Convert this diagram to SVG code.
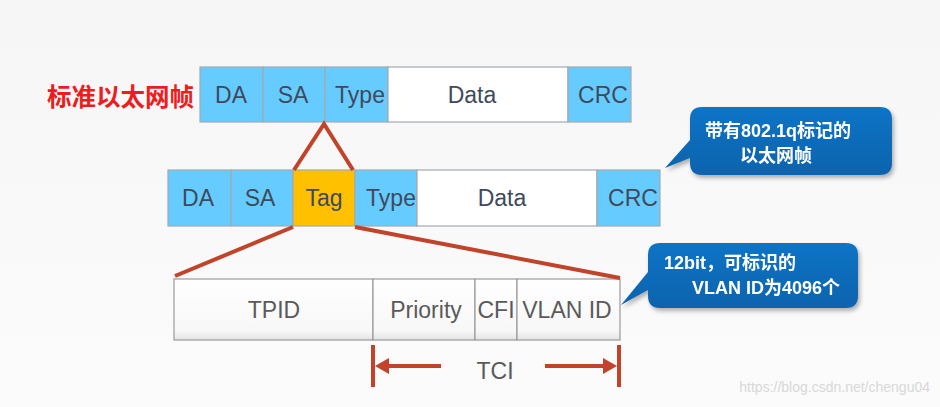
<svg xmlns="http://www.w3.org/2000/svg" width="940" height="407" viewBox="0 0 940 407">
<defs>
<linearGradient id="bg" x1="0" y1="0" x2="0" y2="1">
<stop offset="0" stop-color="#f6f6f6"/><stop offset="1" stop-color="#fbfbfb"/>
</linearGradient>
<linearGradient id="bev" x1="0" y1="0" x2="0" y2="1">
<stop offset="0" stop-color="#ffffff"/><stop offset="0.85" stop-color="#f7f7f7"/><stop offset="1" stop-color="#e4e4e4"/>
</linearGradient>
<linearGradient id="bubble" x1="0" y1="0" x2="0" y2="1">
<stop offset="0" stop-color="#0f74c6"/><stop offset="1" stop-color="#0a63ad"/>
</linearGradient>
<filter id="sh" x="-10%" y="-10%" width="130%" height="140%">
<feDropShadow dx="2" dy="3" stdDeviation="2" flood-color="#000" flood-opacity="0.3"/>
</filter>
</defs>
<style>
.blue{fill:#66ccff;stroke:#a3a9b0;stroke-width:1.2}
.white{fill:#ffffff;stroke:#a3a9b0;stroke-width:1.2}
.tag{fill:#ffc000;stroke:#a3a9b0;stroke-width:1.2}
.ft{font-family:"Liberation Sans",Arial,sans-serif;font-size:23px;fill:#3e4a5c;text-anchor:middle}
.bev{fill:url(#bev);stroke:#9a9a9a;stroke-width:1.2}
.bt{font-family:"Liberation Sans",Arial,sans-serif;font-size:23px;fill:#5a5a5a;text-anchor:middle}
.red{stroke:#c0432a;stroke-width:4;fill:none}
.cw{font-family:"Liberation Sans","Noto Sans CJK SC",sans-serif;font-size:18px;font-weight:bold;fill:#ffffff}
</style>
<rect width="940" height="407" fill="url(#bg)"/>
<text x="47" y="106" font-family="'Noto Sans CJK SC',sans-serif" font-size="24.5" font-weight="bold" fill="#ee1c1c">标准以太网帧</text>

<g id="frame-standard">
<rect class="blue" x="200" y="67" width="63" height="55"/>
<rect class="blue" x="263" y="67" width="62" height="55"/>
<rect class="blue" x="325" y="67" width="63" height="55"/>
<rect class="white" x="388" y="67" width="180" height="55"/>
<rect class="blue" x="568" y="67" width="63" height="55"/>
<text class="ft" x="231" y="103">DA</text>
<text class="ft" x="293" y="103">SA</text>
<text class="ft" x="360" y="103">Type</text>
<text class="ft" x="472" y="103">Data</text>
<text class="ft" x="603" y="103">CRC</text>
</g>

<g id="frame-tagged">
<rect class="blue" x="168" y="170" width="63" height="56"/>
<rect class="blue" x="231" y="170" width="62" height="56"/>
<rect class="tag" x="293" y="170" width="62" height="56"/>
<rect class="blue" x="355" y="170" width="62" height="56"/>
<rect class="white" x="417" y="170" width="180" height="56"/>
<rect class="blue" x="597" y="170" width="63" height="56"/>
<text class="ft" x="198" y="206">DA</text>
<text class="ft" x="260" y="206">SA</text>
<text class="ft" x="324" y="206">Tag</text>
<text class="ft" x="391" y="206">Type</text>
<text class="ft" x="502" y="206">Data</text>
<text class="ft" x="633" y="206">CRC</text>
</g>

<g id="tag-fields">
<rect class="bev" x="174" y="279" width="199" height="61"/>
<rect class="bev" x="373" y="279" width="102" height="61"/>
<rect class="bev" x="475" y="279" width="42" height="61"/>
<rect class="bev" x="517" y="279" width="103" height="61"/>
<text class="bt" x="274" y="318">TPID</text>
<text class="bt" x="426" y="318">Priority</text>
<text class="bt" x="496" y="318">CFI</text>
<text class="bt" x="567" y="318">VLAN ID</text>
</g>

<g id="connectors">
<polyline class="red" points="294,170 324,124 353,170" stroke-linejoin="miter"/>
<line class="red" x1="293" y1="227" x2="175" y2="276"/>
<line class="red" x1="355" y1="227" x2="620" y2="278"/>
<line class="red" x1="373" y1="345" x2="373" y2="387"/>
<line class="red" x1="619" y1="345" x2="619" y2="387"/>
<line class="red" x1="441" y1="366" x2="385" y2="366"/>
<polygon points="375,366 389,358 389,374" fill="#c0432a"/>
<line class="red" x1="545" y1="366" x2="607" y2="366"/>
<polygon points="617,366 603,358 603,374" fill="#c0432a"/>
</g>
<text class="bt" x="495" y="379">TCI</text>

<g id="callout-1" filter="url(#sh)">
<path d="M702,107 H880 Q892,107 892,119 V163 Q892,175 880,175 H702 Q690,175 690,163 V158 L665,168 L690,140 V119 Q690,107 702,107 Z" fill="url(#bubble)"/>
<text class="cw" x="705" y="137">带有802.1q标记的</text>
<text class="cw" x="740" y="162">以太网帧</text>
</g>

<g id="callout-2" filter="url(#sh)">
<path d="M660,243 H846 Q858,243 858,255 V296 Q858,308 846,308 H660 Q648,308 648,296 V290 L621,305 L648,272 V255 Q648,243 660,243 Z" fill="url(#bubble)"/>
<text class="cw" x="664" y="269">12bit，可标识的</text>
<text class="cw" x="692" y="294">VLAN ID为4096个</text>
</g>

<text x="930" y="392" text-anchor="end" font-family="'Liberation Sans',Arial,sans-serif" font-size="14" fill="#d8d8d8">https://blog.csdn.net/chengu04</text>
</svg>
